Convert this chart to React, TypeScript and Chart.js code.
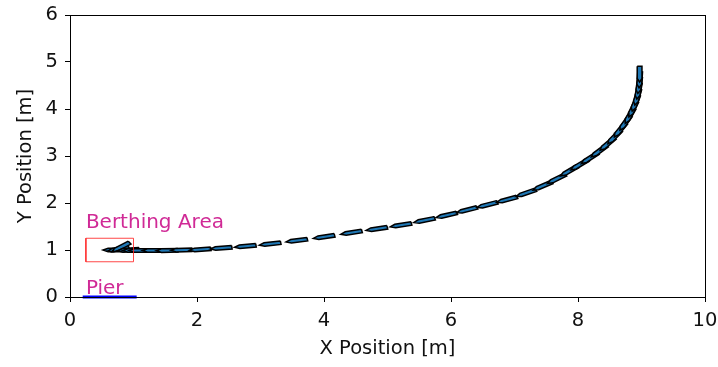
import React, { useEffect, useRef } from "react";
import { Chart, registerables } from "chart.js";

Chart.register(...registerables);

// ship trajectory (from start at top right to berth)
const shipX = [8.97, 8.97, 8.96, 8.95, 8.93, 8.90, 8.86, 8.81, 8.74, 8.66, 8.57, 8.46, 8.33, 8.18, 8.02, 7.86, 7.66, 7.44, 7.18, 6.88, 6.57, 6.25, 5.93, 5.58, 5.21, 4.83, 4.43, 4.00, 3.57, 3.15, 2.76, 2.38, 2.05, 1.76, 1.53, 1.31, 1.10, 1.00, 0.92, 0.80, 0.76, 0.69];
const shipY = [4.74, 4.62, 4.50, 4.38, 4.25, 4.12, 3.99, 3.85, 3.70, 3.55, 3.40, 3.25, 3.10, 2.95, 2.81, 2.68, 2.51, 2.36, 2.21, 2.07, 1.96, 1.85, 1.74, 1.63, 1.53, 1.45, 1.37, 1.28, 1.20, 1.13, 1.08, 1.04, 1.01, 1.00, 0.99, 0.99, 0.99, 0.99, 1.00, 1.06, 1.02, 1.00];
const shipHeading = [-90, -93, -96, -98, -102, -106, -110, -113, -118, -121, -126, -131, -135, -139, -141, -142, -146, -150, -155, -160, -161, -161, -163, -165, -168, -169, -168, -169, -170, -171, -173, -174, -175, -178, -178, 180, 180, 180, 185, 215, 195, 180];

const berthX = [0.25, 1.0, 1.0, 0.25, 0.25];
const berthY = [0.75, 0.75, 1.25, 1.25, 0.75];
const pierX = [0.2, 1.05];
const pierY = [0, 0];

const labelTexts = ["Berthing Area", "Pier"];
const labelX = [0.25, 0.25];
const labelY = [1.47, 0.06];

const xTicks = [0, 2, 4, 6, 8, 10];
const yTicks = [0, 1, 2, 3, 4, 5, 6];

const SHIP_L = 0.34;
const SHIP_B = 0.075;

function shipPolygon(cx: number, cy: number, deg: number) {
  const t = (deg * Math.PI) / 180;
  const c = Math.cos(t), s = Math.sin(t);
  const h = SHIP_L / 2, w = SHIP_B / 2, bow = 0.08;
  const local = [[-h, -w], [h - bow, -w], [h, 0], [h - bow, w], [-h, w], [-h, -w]];
  return local.map(([a, b]) => ({ x: cx + a * c - b * s, y: cy + a * s + b * c }));
}

const FONT = '"DejaVu Sans", sans-serif';
const AX_SIZE = 19.5;

const overlay = {
  id: "overlay",
  afterDraw(chart: any) {
    const { ctx, chartArea: a, scales } = chart;
    ctx.save();
    ctx.strokeStyle = "#000";
    ctx.lineWidth = 1;
    ctx.strokeRect(a.left + 0.5, a.top + 0.5, a.width, a.height);
    ctx.fillStyle = "#d02a96";
    ctx.font = `20px ${FONT}`;
    ctx.textBaseline = "alphabetic";
    ctx.textAlign = "left";
    labelTexts.forEach((t, i) => {
      ctx.fillText(t, scales.x.getPixelForValue(labelX[i]), scales.y.getPixelForValue(labelY[i]));
    });
    ctx.restore();
  },
};

export default function App() {
  const ref = useRef<HTMLCanvasElement>(null);
  useEffect(() => {
    document.body.style.margin = "0";
    const ships = shipX.map((x, i) => ({
      data: shipPolygon(x, shipY[i], shipHeading[i]),
      showLine: true,
      fill: "shape",
      backgroundColor: "#1f77b4",
      borderColor: "#000",
      borderWidth: 1.5,
      pointRadius: 0,
      tension: 0,
    }));
    const chart = new Chart(ref.current!, {
      type: "scatter",
      data: {
        datasets: [
          {
            data: pierX.map((x, i) => ({ x, y: pierY[i] })),
            showLine: true,
            borderColor: "#0000ff",
            borderWidth: 3,
            pointRadius: 0,
            clip: false,
          } as any,
          {
            data: berthX.map((x, i) => ({ x, y: berthY[i] })),
            showLine: true,
            borderColor: "rgba(255,40,40,0.85)",
            borderWidth: 1,
            pointRadius: 0,
            fill: false,
          },
          ...(ships as any[]),
        ],
      },
      options: {
        responsive: false,
        animation: false,
        layout: { padding: { left: 0, top: 15, right: 13, bottom: 0 } },
        plugins: { legend: { display: false }, tooltip: { enabled: false } },
        scales: {
          x: {
            type: "linear",
            min: 0,
            max: 10,
            afterBuildTicks: (s: any) => { s.ticks = xTicks.map((v) => ({ value: v })); },
            afterFit: (s: any) => { s.height = 70; s.paddingLeft = 0; s.paddingRight = 0; },
            grid: { drawOnChartArea: false, tickLength: 5, tickColor: "#000" },
            border: { color: "#000", width: 1 },
            ticks: { color: "#111", font: { family: FONT, size: AX_SIZE }, padding: 7, maxRotation: 0 },
            title: { display: true, text: "X Position [m]", color: "#111", font: { family: FONT, size: AX_SIZE }, padding: { top: 0, bottom: 6 } },
          },
          y: {
            type: "linear",
            min: 0,
            max: 6,
            afterBuildTicks: (s: any) => { s.ticks = yTicks.map((v) => ({ value: v })); },
            afterFit: (s: any) => { s.width = 70; s.paddingTop = 0; s.paddingBottom = 0; },
            grid: { drawOnChartArea: false, tickLength: 5, tickColor: "#000" },
            border: { color: "#000", width: 1 },
            ticks: { color: "#111", font: { family: FONT, size: AX_SIZE }, padding: 7 },
            title: { display: true, text: "Y Position [m]", color: "#111", font: { family: FONT, size: AX_SIZE }, padding: { top: 14, bottom: 0 } },
          },
        },
      } as any,
      plugins: [overlay],
    });
    return () => chart.destroy();
  }, []);
  return (
    <div style={{ position: "absolute", left: 0, top: 0, width: 718, height: 367, background: "#fff" }}>
      <canvas ref={ref} width={718} height={367} style={{ display: "block" }} />
    </div>
  );
}
